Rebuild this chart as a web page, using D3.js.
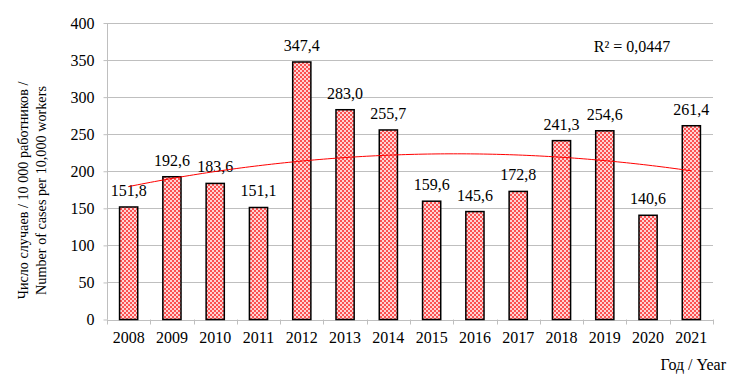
<!DOCTYPE html>
<html><head><meta charset="utf-8">
<script src="https://cdn.jsdelivr.net/npm/d3@7"></script>
<style>body{margin:0;background:#fff}svg{display:block}</style>
</head><body>
<script>
const years = ["2008","2009","2010","2011","2012","2013","2014","2015","2016","2017","2018","2019","2020","2021"];
const values = [151.8,192.6,183.6,151.1,347.4,283.0,255.7,159.6,145.6,172.8,241.3,254.6,140.6,261.4];
const yTicks = [0,50,100,150,200,250,300,350,400];
const r2Label = "R² = 0,0447";

const W=742,H=376, FS=16, FF="'Liberation Serif', 'Times New Roman', Tinos, 'DejaVu Serif', serif";
const m={l:107,r:29,t:23,b:56.5};
const svg=d3.select("body").append("svg").attr("width",W).attr("height",H)
  .attr("font-family",FF).style("font-family",FF);
const defs=svg.append("defs");
const pat=defs.append("pattern").attr("id","chk").attr("width",4).attr("height",4).attr("patternUnits","userSpaceOnUse");
pat.append("rect").attr("width",4).attr("height",4).attr("fill","#ffd4d4");
pat.append("rect").attr("width",2).attr("height",2).attr("fill","#fb5252");
pat.append("rect").attr("x",2).attr("y",2).attr("width",2).attr("height",2).attr("fill","#fb5252");

const x=d3.scaleBand().domain(years).range([m.l,W-m.r]).paddingInner(0.58).paddingOuter(0.29);
const xb=d3.scaleBand().domain(years).range([m.l,W-m.r]);
const y=d3.scaleLinear().domain([0,400]).range([H-m.b,m.t]);

function ff(sel){sel.attr("font-family",FF).style("font-family",FF).attr("fill","#000");}

// grid
svg.append("g").selectAll("line").data(yTicks.filter(d=>d>0)).join("line")
 .attr("x1",m.l).attr("x2",W-m.r).attr("y1",d=>Math.round(y(d))+0.5).attr("y2",d=>Math.round(y(d))+0.5)
 .attr("stroke","#bfbfbf").attr("stroke-width",1);

// y axis
const ya=svg.append("g").attr("transform",`translate(${m.l+0.5},0)`).call(d3.axisLeft(y).tickValues(yTicks).tickSize(4).tickPadding(9));
ya.select(".domain").attr("stroke","#bfbfbf").attr("d",`M-0,${y(400)}V${y(0)}`);
ya.selectAll(".tick line").attr("stroke","#bfbfbf");
ya.attr("font-size",FS).call(ff);
ya.selectAll("text").attr("font-size",FS).attr("dy","0.34em").call(ff);

// x axis
const xa=svg.append("g").attr("transform",`translate(0,${y(0)+0.5})`).call(d3.axisBottom(xb).tickSize(0).tickPadding(0));
xa.select(".domain").attr("stroke","#bfbfbf");
xa.attr("font-size",FS).call(ff);
xa.selectAll("text").attr("font-size",FS).attr("dy",0).attr("y",23).call(ff);
// boundary ticks
svg.append("g").selectAll("line").data(years.concat(["end"])).join("line")
 .attr("x1",(d,i)=>Math.round(m.l+i*xb.step())+0.5).attr("x2",(d,i)=>Math.round(m.l+i*xb.step())+0.5)
 .attr("y1",y(0)).attr("y2",y(0)+5).attr("stroke","#bfbfbf");

// bars
svg.append("g").selectAll("rect").data(values).join("rect")
 .attr("x",(d,i)=>x(years[i])).attr("width",x.bandwidth())
 .attr("y",d=>y(d)).attr("height",d=>y(0)-y(d))
 .attr("fill","url(#chk)").attr("stroke","#000").attr("stroke-width",1.5);

// labels
svg.append("g").selectAll("text").data(values).join("text")
 .attr("x",(d,i)=>x(years[i])+x.bandwidth()/2).attr("y",d=>y(d)-11)
 .attr("text-anchor","middle").attr("font-size",FS).call(ff)
 .text(d=>d.toFixed(1).replace(".",","));

// quadratic trend (least squares)
const n=values.length, xs=values.map((d,i)=>i+1);
function solve(A,b){const M=A.map((r,i)=>r.concat([b[i]]));const k=M.length;
 for(let i=0;i<k;i++){let p=i;for(let j=i+1;j<k;j++)if(Math.abs(M[j][i])>Math.abs(M[p][i]))p=j;[M[i],M[p]]=[M[p],M[i]];
  for(let j=0;j<k;j++)if(j!==i){const f=M[j][i]/M[i][i];for(let c=i;c<=k;c++)M[j][c]-=f*M[i][c];}}
 return M.map((r,i)=>r[k]/r[i]);}
const S=p=>d3.sum(xs,v=>Math.pow(v,p)), T=p=>d3.sum(xs,(v,i)=>Math.pow(v,p)*values[i]);
const coef=solve([[n,S(1),S(2)],[S(1),S(2),S(3)],[S(2),S(3),S(4)]],[T(0),T(1),T(2)]);
const fx=t=>coef[0]+coef[1]*t+coef[2]*t*t;
const pts=d3.range(1,n+0.001,0.1).map(t=>[m.l+(t-0.5)*xb.step(),y(fx(t))]);
svg.append("path").attr("d",d3.line()(pts)).attr("fill","none").attr("stroke","#ff0000").attr("stroke-width",1);

svg.append("text").attr("x",632).attr("y",52).attr("text-anchor","middle").attr("font-size",FS).call(ff).text(r2Label);

// axis titles
const yt=svg.append("text").attr("transform","translate(0,190.5) rotate(-90)").attr("text-anchor","middle").attr("font-size",14.2).call(ff);
yt.append("tspan").attr("x",0).attr("y",28).text("Число случаев / 10 000 работников /");
yt.append("tspan").attr("x",0).attr("y",46).text("Number of cases per 10,000 workers");
svg.append("text").attr("x",726).attr("y",370).attr("text-anchor","end").attr("font-size",FS).call(ff).text("Год / Year");
</script>
</body></html>
